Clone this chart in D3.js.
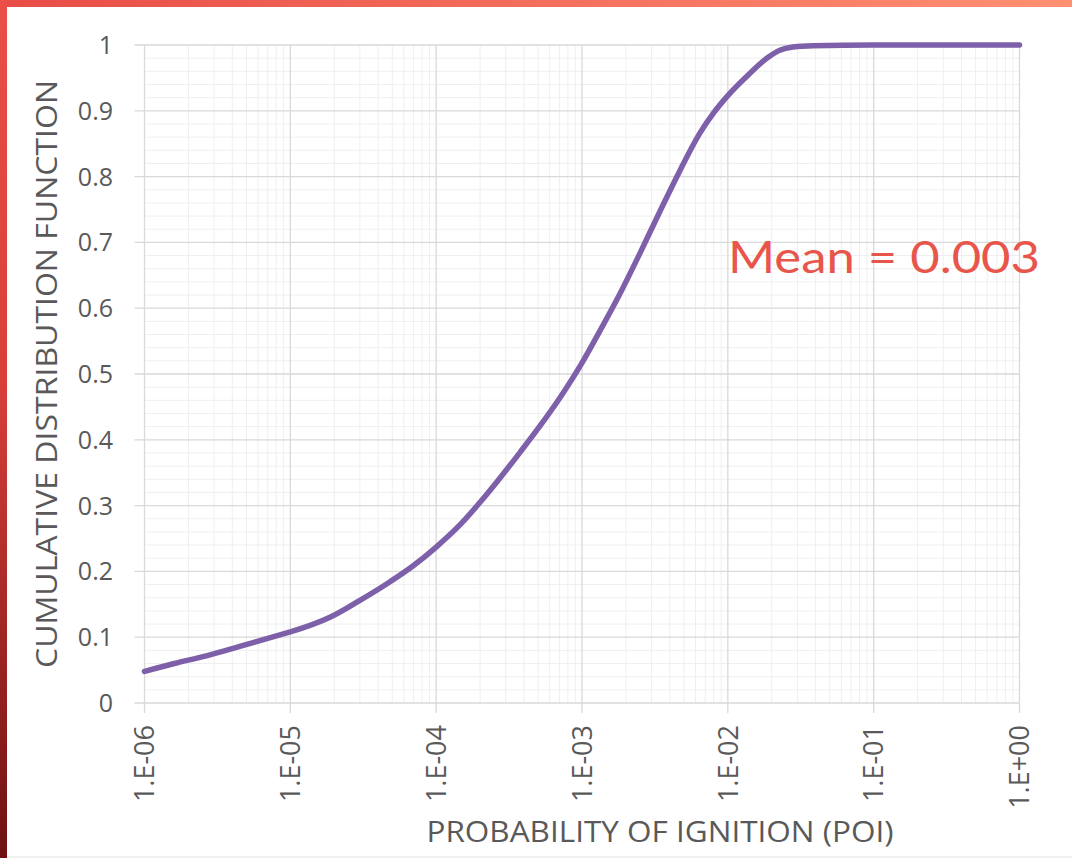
<!DOCTYPE html>
<html>
<head>
<meta charset="utf-8">
<script src="https://cdn.jsdelivr.net/npm/d3@7"></script>
<style>
  html, body { margin: 0; padding: 0; background: #fff; }
  svg { display: block; }
</style>
</head>
<body>
<div id="chart"></div>
<script>
// probability of ignition (x) and cumulative distribution (y)
const poi = [1e-6, 1.6e-6, 2.7e-6, 4.5e-6, 7.7e-6, 1e-5, 1.9e-5, 3e-5, 4.8e-5, 7e-5,
             1e-4, 1.46e-4, 2e-4, 2.74e-4, 3.76e-4, 5.15e-4, 7.06e-4, 1e-3, 1.33e-3, 1.82e-3,
             2.49e-3, 3.42e-3, 4.69e-3, 6.43e-3, 7.94e-3, 1e-2, 1.33e-2, 1.83e-2, 2.27e-2, 2.8e-2,
             3.84e-2, 1e-1, 1];
const cdf = [0.048, 0.060, 0.072, 0.086, 0.101, 0.108, 0.131, 0.156, 0.184, 0.209,
             0.237, 0.271, 0.305, 0.342, 0.381, 0.421, 0.464, 0.517, 0.566, 0.622,
             0.683, 0.747, 0.809, 0.866, 0.896, 0.923, 0.951, 0.979, 0.992, 0.997,
             0.999, 1.0, 1.0];

const xTicks = [1e-6, 1e-5, 1e-4, 1e-3, 1e-2, 1e-1, 1];
const xTickLabels = ["1.E-06", "1.E-05", "1.E-04", "1.E-03", "1.E-02", "1.E-01", "1.E+00"];
const yTicks = [0, 0.1, 0.2, 0.3, 0.4, 0.5, 0.6, 0.7, 0.8, 0.9, 1];
const yTickLabels = ["0", "0.1", "0.2", "0.3", "0.4", "0.5", "0.6", "0.7", "0.8", "0.9", "1"];

const W = 1072, H = 858;
const plotL = 144.5, plotR = 1019.5, plotT = 45, plotB = 703;

const svg = d3.select("#chart").append("svg")
  .attr("width", W).attr("height", H);

// slide background (red frame)
const defs = svg.append("defs");
const gTop = defs.append("linearGradient").attr("id", "gTop")
  .attr("x1", "0%").attr("x2", "100%").attr("y1", "0%").attr("y2", "0%");
gTop.append("stop").attr("offset", "0%").attr("stop-color", "#e84c46");
gTop.append("stop").attr("offset", "100%").attr("stop-color", "#ff9072");
const gLeft = defs.append("linearGradient").attr("id", "gLeft")
  .attr("x1", "0%").attr("x2", "0%").attr("y1", "0%").attr("y2", "100%");
gLeft.append("stop").attr("offset", "0%").attr("stop-color", "#ea4f48");
gLeft.append("stop").attr("offset", "45%").attr("stop-color", "#d83f39");
gLeft.append("stop").attr("offset", "100%").attr("stop-color", "#6e1011");

svg.append("rect").attr("x", 0).attr("y", 0).attr("width", W).attr("height", 7).attr("fill", "url(#gTop)");
svg.append("rect").attr("x", 0).attr("y", 0).attr("width", 7).attr("height", H).attr("fill", "url(#gLeft)");
svg.append("rect").attr("x", 7).attr("y", 856).attr("width", W - 7).attr("height", 2).attr("fill", "#f0f0f0");

const x = d3.scaleLog().domain([1e-6, 1]).range([plotL, plotR]);
const y = d3.scaleLinear().domain([0, 1]).range([plotB, plotT]);

// minor grid
const minorX = [];
for (let e = -6; e < 0; e++) for (let m = 2; m <= 9; m++) minorX.push(m * Math.pow(10, e));
const minorY = d3.range(0, 50).filter(i => i % 5 !== 0).map(i => i * 0.02);

svg.append("g").selectAll("line").data(minorX).join("line")
  .attr("x1", d => x(d)).attr("x2", d => x(d)).attr("y1", plotT).attr("y2", plotB)
  .attr("stroke", "#efefef").attr("stroke-width", 1);
svg.append("g").selectAll("line").data(minorY).join("line")
  .attr("x1", plotL).attr("x2", plotR).attr("y1", d => y(d)).attr("y2", d => y(d))
  .attr("stroke", "#efefef").attr("stroke-width", 1);

// major grid (extends past the plot like tick marks)
svg.append("g").selectAll("line").data(xTicks).join("line")
  .attr("x1", d => x(d)).attr("x2", d => x(d)).attr("y1", plotT).attr("y2", plotB + 10)
  .attr("stroke", "#d9d9d9").attr("stroke-width", 1.3);
svg.append("g").selectAll("line").data(yTicks).join("line")
  .attr("x1", plotL - 10).attr("x2", plotR).attr("y1", d => y(d)).attr("y2", d => y(d))
  .attr("stroke", "#d9d9d9").attr("stroke-width", 1.3);

// tick labels
svg.append("g").selectAll("text").data(yTicks).join("text")
  .attr("x", 113).attr("y", d => y(d)).attr("dy", "0.36em")
  .attr("text-anchor", "end")
  .attr("font-family", "Open Sans, sans-serif").attr("font-size", 25)
  .attr("fill", "#595959")
  .text((d, i) => yTickLabels[i]);

svg.append("g").selectAll("text").data(xTicks).join("text")
  .attr("transform", d => `translate(${x(d)},725) rotate(-90)`)
  .attr("dy", "0.36em")
  .attr("text-anchor", "end")
  .attr("font-family", "Open Sans, sans-serif").attr("font-size", 27)
  .attr("fill", "#595959")
  .text((d, i) => xTickLabels[i]);

// axis titles
svg.append("text")
  .attr("transform", "translate(57,374) rotate(-90)")
  .attr("text-anchor", "middle")
  .attr("font-family", "Open Sans, sans-serif").attr("font-size", 29)
  .attr("textLength", 588).attr("lengthAdjust", "spacingAndGlyphs")
  .attr("fill", "#595959")
  .text("CUMULATIVE DISTRIBUTION FUNCTION");

svg.append("text")
  .attr("x", 660).attr("y", 842)
  .attr("text-anchor", "middle")
  .attr("font-family", "Open Sans, sans-serif").attr("font-size", 29)
  .attr("textLength", 467).attr("lengthAdjust", "spacingAndGlyphs")
  .attr("fill", "#595959")
  .text("PROBABILITY OF IGNITION (POI)");

// the CDF curve
const pts = poi.map((p, i) => ({ p: p, c: cdf[i] }));
const line = d3.line()
  .x(d => x(d.p))
  .y(d => y(d.c))
  .curve(d3.curveMonotoneX);

svg.append("path")
  .datum(pts)
  .attr("fill", "none")
  .attr("stroke", "#7d60a9")
  .attr("stroke-width", 5.5)
  .attr("stroke-linecap", "round")
  .attr("d", line);

// annotation
svg.append("text")
  .attr("x", 728).attr("y", 273)
  .attr("font-family", "Lato, sans-serif").attr("font-size", 44)
  .attr("textLength", 312).attr("lengthAdjust", "spacingAndGlyphs")
  .attr("fill", "#e8554a")
  .text("Mean = 0.003");
</script>
</body>
</html>
